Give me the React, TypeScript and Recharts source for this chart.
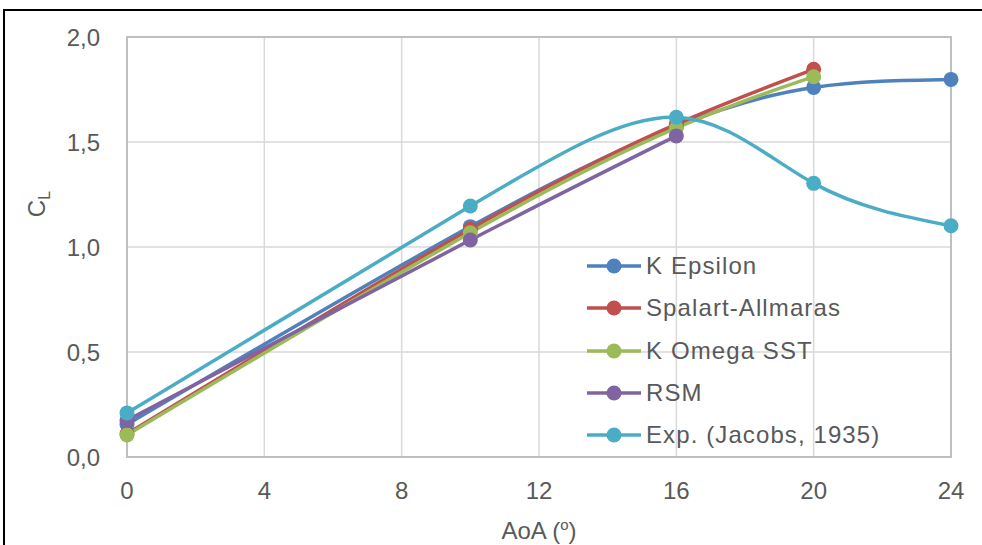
import { LineChart, Line, XAxis, YAxis, CartesianGrid, ReferenceArea } from 'recharts';

// angle of attack (deg)
const aoa = [0, 10, 16, 20, 24];
const xTicks = [0, 4, 8, 12, 16, 20, 24];
const yTicks = [0, 0.5, 1, 1.5, 2];

// lift coefficient per model
const kEpsilon = [0.155, 1.097, 1.575, 1.76, 1.798];
const spalartAllmaras = [0.11, 1.085, 1.585, 1.846, null];
const kOmegaSst = [0.105, 1.068, 1.567, 1.811, null];
const rsm = [0.175, 1.033, 1.529, null, null];
const experiment = [0.21, 1.195, 1.618, 1.303, 1.101];

const series = [
  { key: 'kEpsilon', name: 'K Epsilon', color: '#4F81BD', values: kEpsilon },
  { key: 'spalart', name: 'Spalart-Allmaras', color: '#C0504D', values: spalartAllmaras },
  { key: 'kOmega', name: 'K Omega SST', color: '#9BBB59', values: kOmegaSst },
  { key: 'rsm', name: 'RSM', color: '#8064A2', values: rsm },
  { key: 'exp', name: 'Exp. (Jacobs, 1935)', color: '#4BACC6', values: experiment },
];

const data = aoa.map((a, i) => {
  const row: Record<string, number | null> = { aoa: a };
  series.forEach((s) => {
    row[s.key] = s.values[i];
  });
  return row;
});

const textColor = '#595959';
const font = '"Liberation Sans", Arial, sans-serif';

// legend is drawn outside recharts so it doesn't eat into the plot area
function LegendBox() {
  return (
    <div
      style={{
        position: 'absolute',
        left: 587,
        top: 245,
        fontFamily: font,
        fontSize: 24,
        color: textColor,
        letterSpacing: 1.1,
      }}
    >
      {series.map((s) => (
        <div key={s.key} style={{ display: 'flex', alignItems: 'center', height: 42.3 }}>
          <svg width={59} height={20} style={{ display: 'block' }}>
            <line x1={0} y1={10} x2={54} y2={10} stroke={s.color} strokeWidth={3.5} />
            <circle cx={27} cy={10} r={7.5} fill={s.color} />
          </svg>
          <span style={{ whiteSpace: 'nowrap', lineHeight: '24px' }}>{s.name}</span>
        </div>
      ))}
    </div>
  );
}

export default function App() {
  return (
    <div style={{ position: 'absolute', left: 0, top: 0, width: 982, height: 545, background: '#fff', overflow: 'hidden' }}>
      <div
        style={{
          position: 'absolute',
          left: 3,
          top: 9,
          width: 990,
          height: 560,
          borderLeft: '2px solid #000',
          borderTop: '2px solid #000',
        }}
      />
      <div style={{ position: 'absolute', left: 0, top: 0 }}>
        <LineChart width={982} height={545} data={data} margin={{ top: 37, right: 31, bottom: 0, left: 0 }}>
          <CartesianGrid stroke="#d9d9d9" strokeWidth={1.5} />
          <ReferenceArea x1={0} x2={24} y1={0} y2={2} fill="none" stroke="#bfbfbf" strokeWidth={2} />
          <XAxis
            dataKey="aoa"
            type="number"
            domain={[0, 24]}
            ticks={xTicks}
            height={88}
            tickSize={0}
            tickMargin={25}
            axisLine={{ stroke: '#bfbfbf', strokeWidth: 2 }}
            tick={{ fontSize: 24, fill: textColor, fontFamily: font }}
            label={{
              content: () => (
                <text x={539} y={539} textAnchor="middle" fontSize={24} fill={textColor} fontFamily={font}>
                  AoA (
                  <tspan fontSize={15} dy={-9}>o</tspan>
                  <tspan dy={9}>)</tspan>
                </text>
              ),
            }}
          />
          <YAxis
            type="number"
            domain={[0, 2]}
            ticks={yTicks}
            width={127}
            tickSize={0}
            tickMargin={27}
            axisLine={{ stroke: '#bfbfbf', strokeWidth: 2 }}
            tick={{ fontSize: 24, fill: textColor, fontFamily: font }}
            tickFormatter={(v: number) => v.toFixed(1).replace('.', ',')}
            label={{
              content: () => (
                <text
                  x={45}
                  y={204}
                  transform="rotate(-90 45 204)"
                  textAnchor="middle"
                  fontSize={24}
                  fill={textColor}
                  fontFamily={font}
                >
                  C<tspan fontSize={16} dy={5}>L</tspan>
                </text>
              ),
            }}
          />
          {series.map((s) => (
            <Line
              key={s.key}
              type="natural"
              dataKey={s.key}
              name={s.name}
              stroke={s.color}
              strokeWidth={3.5}
              dot={{ r: 7.5, fill: s.color, stroke: 'none' }}
              activeDot={false}
              isAnimationActive={false}
            />
          ))}
        </LineChart>
      </div>
      <LegendBox />
    </div>
  );
}
